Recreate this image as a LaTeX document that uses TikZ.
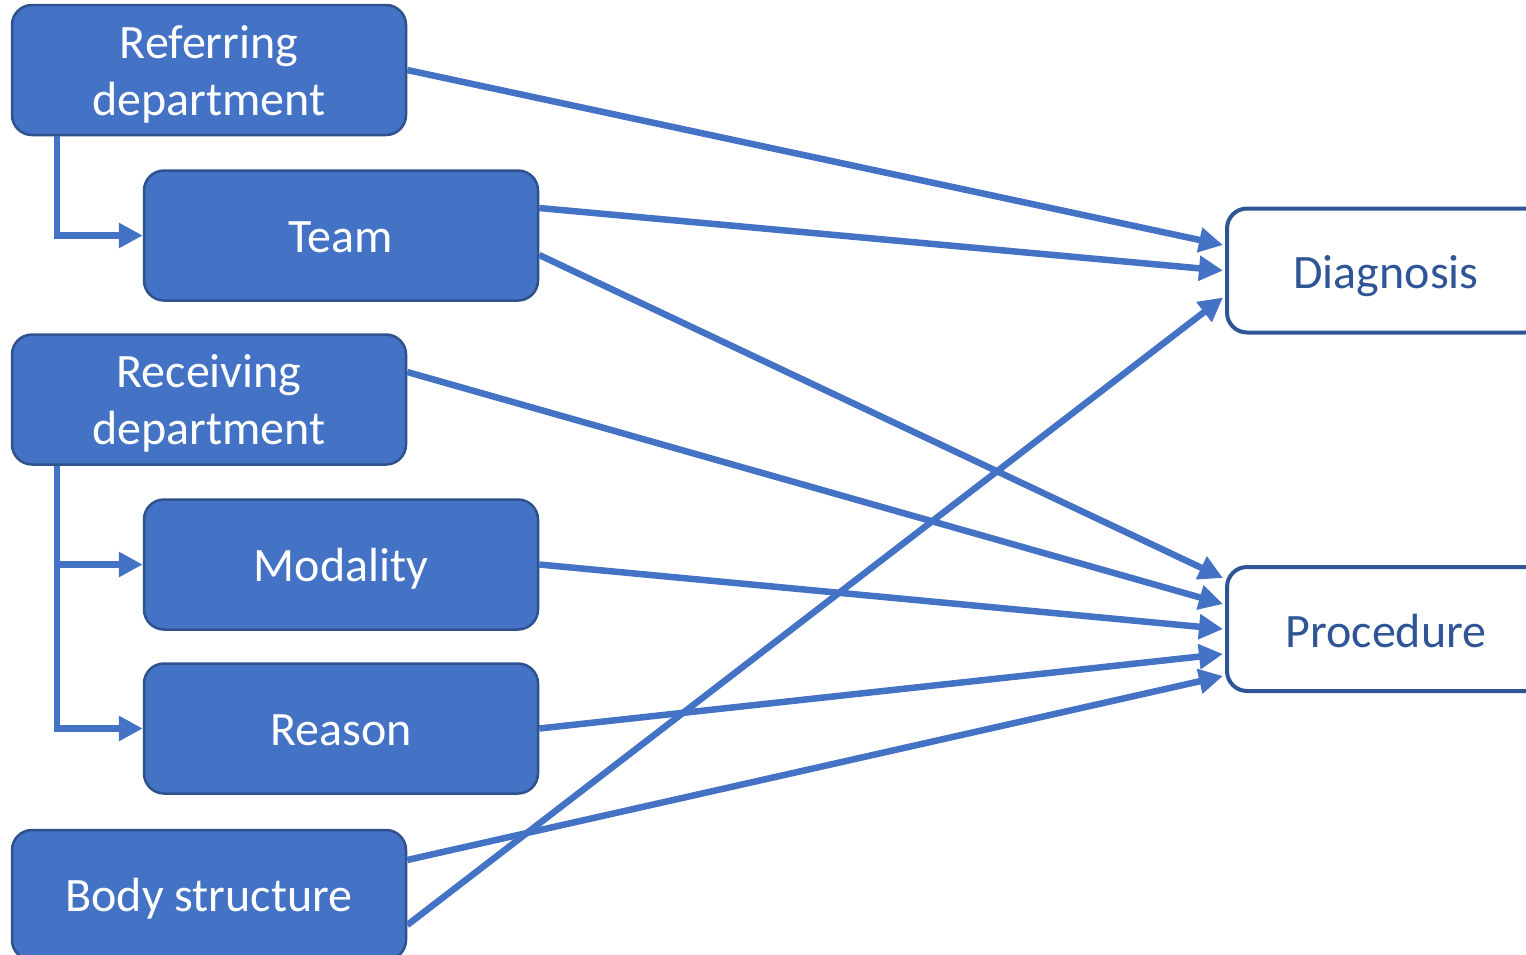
\documentclass[tikz,border=0pt]{standalone}
\usepackage{fontspec}
\setmainfont{Carlito}
\usetikzlibrary{arrows.meta,calc}
\definecolor{boxblue}{HTML}{4472C4}
\definecolor{edgeblue}{HTML}{2F528F}
\definecolor{darkblue}{HTML}{2F5597}
\tikzset{
  inbox/.style={rectangle, rounded corners=20pt, fill=boxblue, draw=edgeblue, line width=2.5pt,
    text=white, minimum width=394pt, minimum height=130pt, align=center, inner sep=0pt,
    text height=36pt, text depth=3pt,
    font=\fontsize{48pt}{57pt}\selectfont},
  twoline/.style={text height=93pt, text depth=3pt},
  outbox/.style={rectangle, rounded corners=20pt, fill=white, draw=darkblue, line width=4pt,
    text=darkblue, minimum width=318pt, minimum height=124pt, align=center, inner sep=0pt,
    text height=36pt, text depth=0pt,
    font=\fontsize{48pt}{57pt}\selectfont},
  conn/.style={draw=boxblue, line width=6.5pt, -{Triangle[length=24pt,width=24pt]}},
}
\begin{document}
\begin{tikzpicture}[x=1pt,y=-1pt]
\clip (0,0) rectangle (1526,954);
\useasboundingbox (0,0) rectangle (1526,954);
\fill[white] (0,0) rectangle (1526,954);
\node[inbox,twoline] (ref) at (209,70) {Referring\\department};
\node[inbox] (team) at (341,235.5) {Team};
\node[inbox,twoline] (recv) at (209,399.5) {Receiving\\department};
\node[inbox] (mod) at (341,564.5) {Modality};
\node[inbox] (reas) at (341,728.5) {Reason};
\node[inbox] (body) at (209,895) {Body structure};
\node[outbox] (diag) at (1386,270.5) {Diagnosis};
\node[outbox] (proc) at (1386,629) {Procedure};
% elbow connectors
\draw[conn] ($(ref.south west)+(46,0)$) |- (team.west);
\draw[conn] ($(recv.south west)+(46,0)$) |- (mod.west);
\draw[conn] ($(recv.south west)+(46,0)$) |- (reas.west);
% straight connectors
\draw[conn] (ref.east) -- ($(diag.west)+(-2,-25.5)$);
\draw[conn] ($(team.east)+(0,-27.5)$) -- ($(diag.west)+(-2,0)$);
\draw[conn] ($(team.east)+(0,19.5)$) -- ($(proc.west)+(-2,-51)$);
\draw[conn] ($(recv.east)+(0,-27.5)$) -- ($(proc.west)+(-2,-25)$);
\draw[conn] (mod.east) -- ($(proc.west)+(-2,0)$);
\draw[conn] (reas.east) -- ($(proc.west)+(-2,25)$);
\draw[conn] ($(body.east)+(0,-35)$) -- ($(proc.west)+(-2,47)$);
\draw[conn] ($(body.east)+(0,30)$) -- ($(diag.west)+(-2,27)$);
\end{tikzpicture}
\end{document}
